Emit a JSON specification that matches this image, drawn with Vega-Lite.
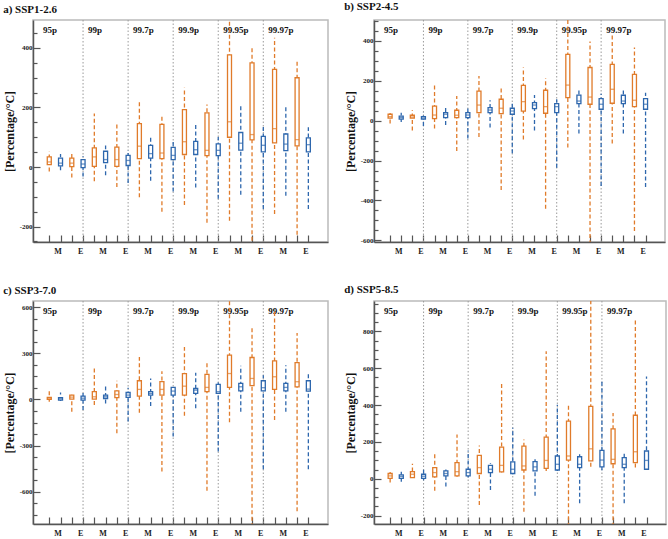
{
"$schema": "https://vega.github.io/schema/vega-lite/v6.json",
"padding": {"left": 2, "top": 0, "right": 0, "bottom": 0},
"config": {
 "font": "Liberation Serif",
 "view": {"stroke": "#bbbbbb", "strokeWidth": 1.5},
 "axis": {"grid": false, "domainColor": "#555555", "domainWidth": 1.5, "tickColor": "#555555", "tickWidth": 1.2, "labelFont": "Liberation Serif", "labelFontWeight": "bold", "labelFontSize": 7, "labelColor": "#222222", "titleFont": "Liberation Serif", "titleFontWeight": "bold", "titleFontSize": 12, "titleColor": "#111111", "labelOverlap": false, "labelFlush": false},
 "axisX": {"labelFontSize": 8},
 "title": {"font": "Liberation Serif", "fontWeight": "bold", "fontSize": 11, "anchor": "start", "frame": "bounds", "offset": 5, "color": "#111111"}
},
"datasets": {
 "groups": [{"g":"95p","sep":0},{"g":"99p","sep":4},{"g":"99.7p","sep":8},{"g":"99.9p","sep":12},{"g":"99.95p","sep":16},{"g":"99.97p","sep":20}],
 "boxes": [
  {"p":"a","i":1,"s":"O","lo":-15,"q1":8,"md":17,"q3":34,"hi":51},
  {"p":"a","i":2,"s":"B","lo":-11,"q1":4,"md":13,"q3":30,"hi":44},
  {"p":"a","i":3,"s":"O","lo":-35,"q1":1,"md":13,"q3":30,"hi":44},
  {"p":"a","i":4,"s":"B","lo":-32,"q1":-2,"md":10,"q3":25,"hi":36},
  {"p":"a","i":5,"s":"O","lo":-48,"q1":2,"md":34,"q3":64,"hi":180},
  {"p":"a","i":6,"s":"B","lo":-28,"q1":15,"md":25,"q3":53,"hi":72},
  {"p":"a","i":7,"s":"O","lo":-67,"q1":2,"md":25,"q3":67,"hi":143},
  {"p":"a","i":8,"s":"B","lo":-54,"q1":5,"md":22,"q3":39,"hi":56},
  {"p":"a","i":9,"s":"O","lo":-102,"q1":28,"md":70,"q3":146,"hi":221},
  {"p":"a","i":10,"s":"B","lo":-46,"q1":30,"md":45,"q3":73,"hi":102},
  {"p":"a","i":11,"s":"O","lo":-150,"q1":28,"md":47,"q3":143,"hi":176},
  {"p":"a","i":12,"s":"B","lo":-82,"q1":25,"md":39,"q3":66,"hi":84},
  {"p":"a","i":13,"s":"O","lo":-128,"q1":42,"md":85,"q3":193,"hi":266},
  {"p":"a","i":14,"s":"B","lo":-69,"q1":42,"md":58,"q3":86,"hi":148},
  {"p":"a","i":15,"s":"O","lo":-187,"q1":38,"md":56,"q3":182,"hi":210},
  {"p":"a","i":16,"s":"B","lo":-107,"q1":38,"md":56,"q3":78,"hi":101},
  {"p":"a","i":17,"s":"O","lo":-181,"q1":100,"md":152,"q3":377,"hi":520},
  {"p":"a","i":18,"s":"B","lo":-93,"q1":57,"md":80,"q3":116,"hi":207},
  {"p":"a","i":19,"s":"O","lo":-270,"q1":91,"md":109,"q3":350,"hi":401},
  {"p":"a","i":20,"s":"B","lo":-141,"q1":51,"md":73,"q3":103,"hi":137},
  {"p":"a","i":21,"s":"O","lo":-158,"q1":81,"md":129,"q3":328,"hi":434},
  {"p":"a","i":22,"s":"B","lo":-97,"q1":55,"md":77,"q3":111,"hi":203},
  {"p":"a","i":23,"s":"O","lo":-228,"q1":71,"md":92,"q3":300,"hi":356},
  {"p":"a","i":24,"s":"B","lo":-141,"q1":51,"md":75,"q3":98,"hi":134},
  {"p":"b","i":1,"s":"O","lo":-14,"q1":12,"md":20,"q3":32,"hi":48},
  {"p":"b","i":2,"s":"B","lo":-7,"q1":7,"md":15,"q3":23,"hi":40},
  {"p":"b","i":3,"s":"O","lo":-49,"q1":12,"md":18,"q3":27,"hi":52},
  {"p":"b","i":4,"s":"B","lo":-27,"q1":7,"md":13,"q3":20,"hi":40},
  {"p":"b","i":5,"s":"O","lo":-39,"q1":10,"md":28,"q3":73,"hi":177},
  {"p":"b","i":6,"s":"B","lo":-22,"q1":15,"md":32,"q3":40,"hi":73},
  {"p":"b","i":7,"s":"O","lo":-152,"q1":15,"md":27,"q3":52,"hi":123},
  {"p":"b","i":8,"s":"B","lo":-90,"q1":15,"md":28,"q3":40,"hi":65},
  {"p":"b","i":9,"s":"O","lo":-82,"q1":40,"md":78,"q3":148,"hi":224},
  {"p":"b","i":10,"s":"B","lo":-35,"q1":40,"md":53,"q3":65,"hi":102},
  {"p":"b","i":11,"s":"O","lo":-348,"q1":35,"md":62,"q3":107,"hi":168},
  {"p":"b","i":12,"s":"B","lo":-164,"q1":32,"md":48,"q3":62,"hi":85},
  {"p":"b","i":13,"s":"O","lo":-94,"q1":48,"md":95,"q3":177,"hi":266},
  {"p":"b","i":14,"s":"B","lo":-49,"q1":60,"md":78,"q3":90,"hi":128},
  {"p":"b","i":15,"s":"O","lo":-441,"q1":37,"md":70,"q3":152,"hi":212},
  {"p":"b","i":16,"s":"B","lo":-236,"q1":40,"md":70,"q3":85,"hi":107},
  {"p":"b","i":17,"s":"O","lo":-135,"q1":115,"md":178,"q3":332,"hi":530},
  {"p":"b","i":18,"s":"B","lo":-65,"q1":85,"md":98,"q3":128,"hi":157},
  {"p":"b","i":19,"s":"O","lo":-620,"q1":82,"md":118,"q3":266,"hi":396},
  {"p":"b","i":20,"s":"B","lo":-328,"q1":57,"md":82,"q3":110,"hi":135},
  {"p":"b","i":21,"s":"O","lo":-115,"q1":87,"md":157,"q3":282,"hi":432},
  {"p":"b","i":22,"s":"B","lo":-65,"q1":85,"md":98,"q3":127,"hi":160},
  {"p":"b","i":23,"s":"O","lo":-553,"q1":70,"md":102,"q3":232,"hi":366},
  {"p":"b","i":24,"s":"B","lo":-333,"q1":57,"md":82,"q3":110,"hi":140},
  {"p":"c","i":1,"s":"O","lo":-15,"q1":0,"md":8,"q3":13,"hi":56},
  {"p":"c","i":2,"s":"B","lo":-11,"q1":-4,"md":4,"q3":11,"hi":45},
  {"p":"c","i":3,"s":"O","lo":-80,"q1":2,"md":15,"q3":28,"hi":39},
  {"p":"c","i":4,"s":"B","lo":-69,"q1":-4,"md":8,"q3":21,"hi":43},
  {"p":"c","i":5,"s":"O","lo":-37,"q1":2,"md":17,"q3":50,"hi":207},
  {"p":"c","i":6,"s":"B","lo":-26,"q1":6,"md":17,"q3":28,"hi":86},
  {"p":"c","i":7,"s":"O","lo":-220,"q1":11,"md":32,"q3":56,"hi":121},
  {"p":"c","i":8,"s":"B","lo":-144,"q1":13,"md":28,"q3":45,"hi":76},
  {"p":"c","i":9,"s":"O","lo":-86,"q1":21,"md":65,"q3":121,"hi":276},
  {"p":"c","i":10,"s":"B","lo":-43,"q1":28,"md":39,"q3":50,"hi":136},
  {"p":"c","i":11,"s":"O","lo":-468,"q1":28,"md":65,"q3":115,"hi":183},
  {"p":"c","i":12,"s":"B","lo":-241,"q1":28,"md":54,"q3":78,"hi":93},
  {"p":"c","i":13,"s":"O","lo":-106,"q1":28,"md":86,"q3":168,"hi":341},
  {"p":"c","i":14,"s":"B","lo":-58,"q1":39,"md":60,"q3":71,"hi":173},
  {"p":"c","i":15,"s":"O","lo":-593,"q1":50,"md":78,"q3":162,"hi":250},
  {"p":"c","i":16,"s":"B","lo":-339,"q1":39,"md":50,"q3":97,"hi":125},
  {"p":"c","i":17,"s":"O","lo":-149,"q1":78,"md":168,"q3":287,"hi":660},
  {"p":"c","i":18,"s":"B","lo":-80,"q1":56,"md":82,"q3":104,"hi":218},
  {"p":"c","i":19,"s":"O","lo":-830,"q1":89,"md":136,"q3":272,"hi":464},
  {"p":"c","i":20,"s":"B","lo":-453,"q1":56,"md":76,"q3":121,"hi":157},
  {"p":"c","i":21,"s":"O","lo":-134,"q1":65,"md":147,"q3":250,"hi":572},
  {"p":"c","i":22,"s":"B","lo":-80,"q1":56,"md":78,"q3":104,"hi":222},
  {"p":"c","i":23,"s":"O","lo":-727,"q1":82,"md":115,"q3":239,"hi":432},
  {"p":"c","i":24,"s":"B","lo":-453,"q1":54,"md":67,"q3":121,"hi":173},
  {"p":"d","i":1,"s":"O","lo":-20,"q1":3,"md":16,"q3":29,"hi":48},
  {"p":"d","i":2,"s":"B","lo":-16,"q1":3,"md":13,"q3":22,"hi":39},
  {"p":"d","i":3,"s":"O","lo":5,"q1":7,"md":25,"q3":39,"hi":82},
  {"p":"d","i":4,"s":"B","lo":-7,"q1":3,"md":14,"q3":25,"hi":55},
  {"p":"d","i":5,"s":"O","lo":-65,"q1":11,"md":34,"q3":61,"hi":145},
  {"p":"d","i":6,"s":"B","lo":-41,"q1":16,"md":29,"q3":43,"hi":61},
  {"p":"d","i":7,"s":"O","lo":11,"q1":16,"md":39,"q3":88,"hi":240},
  {"p":"d","i":8,"s":"B","lo":7,"q1":16,"md":34,"q3":52,"hi":154},
  {"p":"d","i":9,"s":"O","lo":-142,"q1":29,"md":61,"q3":127,"hi":181},
  {"p":"d","i":10,"s":"B","lo":-61,"q1":34,"md":52,"q3":73,"hi":84},
  {"p":"d","i":11,"s":"O","lo":34,"q1":38,"md":73,"q3":172,"hi":523},
  {"p":"d","i":12,"s":"B","lo":25,"q1":29,"md":52,"q3":92,"hi":277},
  {"p":"d","i":13,"s":"O","lo":-178,"q1":48,"md":70,"q3":178,"hi":213},
  {"p":"d","i":14,"s":"B","lo":-92,"q1":43,"md":65,"q3":93,"hi":106},
  {"p":"d","i":15,"s":"O","lo":43,"q1":57,"md":100,"q3":226,"hi":693},
  {"p":"d","i":16,"s":"B","lo":43,"q1":48,"md":79,"q3":124,"hi":402},
  {"p":"d","i":17,"s":"O","lo":-260,"q1":102,"md":124,"q3":313,"hi":402},
  {"p":"d","i":18,"s":"B","lo":-133,"q1":61,"md":79,"q3":120,"hi":133},
  {"p":"d","i":19,"s":"O","lo":65,"q1":97,"md":163,"q3":393,"hi":980},
  {"p":"d","i":20,"s":"B","lo":46,"q1":65,"md":102,"q3":154,"hi":541},
  {"p":"d","i":21,"s":"O","lo":-260,"q1":82,"md":106,"q3":271,"hi":357},
  {"p":"d","i":22,"s":"B","lo":-133,"q1":61,"md":79,"q3":115,"hi":136},
  {"p":"d","i":23,"s":"O","lo":61,"q1":88,"md":147,"q3":345,"hi":870},
  {"p":"d","i":24,"s":"B","lo":50,"q1":52,"md":100,"q3":151,"hi":555}
 ]
},
"vconcat": [
 {"hconcat": [
  {"width": 295, "height": 222, "title": {"text": "a) SSP1-2.6"},
   "layer": [
    {"data": {"name": "groups"}, "transform": [{"filter": "datum.sep > 0"}],
     "mark": {"type": "rule", "color": "#9a9a9a", "strokeDash": [1.5, 2], "strokeWidth": 1},
     "encoding": {"x": {"field": "sep", "type": "quantitative", "scale": {"domain": [0, 25.3], "nice": false, "zero": false},
       "axis": {"title": null, "tickCount": 100, "values": [1,2,3,4,5,6,7,8,9,10,11,12,13,14,15,16,17,18,19,20,21,22,23,24], "labelExpr": "datum.value % 4 == 0 ? 'E' : (datum.value % 4 == 2 ? 'M' : '')", "tickSize": -7, "labelPadding": 12, "labelOffset": -3, "labelOverlap": false}}}},
    {"data": {"name": "groups"},
     "mark": {"type": "text", "align": "left", "baseline": "middle", "dx": 5, "fontSize": 9, "fontWeight": "bold", "color": "#111111"},
     "encoding": {"x": {"field": "sep", "type": "quantitative", "scale": {"domain": [0, 25.3], "nice": false, "zero": false}},
      "y": {"datum": 460, "type": "quantitative", "scale": {"domain": [-252, 494], "nice": false, "zero": false},
       "axis": {"title": "[Percentage/°C]", "tickCount": 100, "values": [-250,-200,-150,-100,-50,0,50,100,150,200,250,300,350,400,450], "labelExpr": "datum.value % 200 == 0 ? '' + datum.value : ''", "tickSize": {"condition": {"test": "datum.value % 200 == 0", "value": -7}, "value": -4}, "labelPadding": 8, "titlePadding": 3, "labelOverlap": false}},
      "text": {"field": "g"}}},
    {"data": {"name": "boxes"}, "transform": [{"filter": "datum.p == 'a'"}],
     "mark": {"type": "rule", "strokeDash": [4, 2.5], "strokeWidth": 1.3, "clip": true},
     "encoding": {"x": {"field": "i", "type": "quantitative", "scale": {"domain": [0, 25.3], "nice": false, "zero": false}},
      "y": {"field": "lo", "type": "quantitative", "scale": {"domain": [-252, 494], "nice": false, "zero": false}}, "y2": {"field": "hi"},
      "color": {"field": "s", "type": "nominal", "scale": {"domain": ["O","B"], "range": ["#E07B2A", "#2E67AD"]}, "legend": null}}},
    {"data": {"name": "boxes"}, "transform": [{"filter": "datum.p == 'a'"}],
     "mark": {"type": "bar", "width": 4, "fill": "white", "strokeWidth": 1.3, "clip": true},
     "encoding": {"x": {"field": "i", "type": "quantitative", "scale": {"domain": [0, 25.3], "nice": false, "zero": false}},
      "y": {"field": "q1", "type": "quantitative", "scale": {"domain": [-252, 494], "nice": false, "zero": false}}, "y2": {"field": "q3"},
      "stroke": {"field": "s", "type": "nominal", "scale": {"domain": ["O","B"], "range": ["#E07B2A", "#2E67AD"]}, "legend": null}}},
    {"data": {"name": "boxes"}, "transform": [{"filter": "datum.p == 'a'"}],
     "mark": {"type": "tick", "orient": "horizontal", "size": 4, "thickness": 1.3, "clip": true},
     "encoding": {"x": {"field": "i", "type": "quantitative", "scale": {"domain": [0, 25.3], "nice": false, "zero": false}},
      "y": {"field": "md", "type": "quantitative", "scale": {"domain": [-252, 494], "nice": false, "zero": false}},
      "color": {"field": "s", "type": "nominal", "scale": {"domain": ["O","B"], "range": ["#E07B2A", "#2E67AD"]}, "legend": null}}}
   ]},
  {"width": 291, "height": 222, "title": {"text": "b) SSP2-4.5"},
   "layer": [
    {"data": {"name": "groups"}, "transform": [{"filter": "datum.sep > 0"}],
     "mark": {"type": "rule", "color": "#9a9a9a", "strokeDash": [1.5, 2], "strokeWidth": 1},
     "encoding": {"x": {"field": "sep", "type": "quantitative", "scale": {"domain": [0, 25.3], "nice": false, "zero": false},
       "axis": {"title": null, "tickCount": 100, "values": [1,2,3,4,5,6,7,8,9,10,11,12,13,14,15,16,17,18,19,20,21,22,23,24], "labelExpr": "datum.value % 4 == 0 ? 'E' : (datum.value % 4 == 2 ? 'M' : '')", "tickSize": -7, "labelPadding": 12, "labelOffset": -3, "labelOverlap": false}}}},
    {"data": {"name": "groups"},
     "mark": {"type": "text", "align": "left", "baseline": "middle", "dx": 5, "fontSize": 9, "fontWeight": "bold", "color": "#111111"},
     "encoding": {"x": {"field": "sep", "type": "quantitative", "scale": {"domain": [0, 25.3], "nice": false, "zero": false}},
      "y": {"datum": 452, "type": "quantitative", "scale": {"domain": [-608, 504], "nice": false, "zero": false},
       "axis": {"title": "[Percentage/°C]", "tickCount": 100, "values": [-600,-550,-500,-450,-400,-350,-300,-250,-200,-150,-100,-50,0,50,100,150,200,250,300,350,400,450,500], "labelExpr": "datum.value % 200 == 0 ? '' + datum.value : ''", "tickSize": {"condition": {"test": "datum.value % 200 == 0", "value": -7}, "value": -4}, "labelPadding": 8, "titlePadding": 3, "labelOverlap": false}},
      "text": {"field": "g"}}},
    {"data": {"name": "boxes"}, "transform": [{"filter": "datum.p == 'b'"}],
     "mark": {"type": "rule", "strokeDash": [4, 2.5], "strokeWidth": 1.3, "clip": true},
     "encoding": {"x": {"field": "i", "type": "quantitative", "scale": {"domain": [0, 25.3], "nice": false, "zero": false}},
      "y": {"field": "lo", "type": "quantitative", "scale": {"domain": [-608, 504], "nice": false, "zero": false}}, "y2": {"field": "hi"},
      "color": {"field": "s", "type": "nominal", "scale": {"domain": ["O","B"], "range": ["#E07B2A", "#2E67AD"]}, "legend": null}}},
    {"data": {"name": "boxes"}, "transform": [{"filter": "datum.p == 'b'"}],
     "mark": {"type": "bar", "width": 4, "fill": "white", "strokeWidth": 1.3, "clip": true},
     "encoding": {"x": {"field": "i", "type": "quantitative", "scale": {"domain": [0, 25.3], "nice": false, "zero": false}},
      "y": {"field": "q1", "type": "quantitative", "scale": {"domain": [-608, 504], "nice": false, "zero": false}}, "y2": {"field": "q3"},
      "stroke": {"field": "s", "type": "nominal", "scale": {"domain": ["O","B"], "range": ["#E07B2A", "#2E67AD"]}, "legend": null}}},
    {"data": {"name": "boxes"}, "transform": [{"filter": "datum.p == 'b'"}],
     "mark": {"type": "tick", "orient": "horizontal", "size": 4, "thickness": 1.3, "clip": true},
     "encoding": {"x": {"field": "i", "type": "quantitative", "scale": {"domain": [0, 25.3], "nice": false, "zero": false}},
      "y": {"field": "md", "type": "quantitative", "scale": {"domain": [-608, 504], "nice": false, "zero": false}},
      "color": {"field": "s", "type": "nominal", "scale": {"domain": ["O","B"], "range": ["#E07B2A", "#2E67AD"]}, "legend": null}}}
   ]}
 ], "spacing": 14},
 {"hconcat": [
  {"width": 295, "height": 223, "title": {"text": "c) SSP3-7.0"},
   "layer": [
    {"data": {"name": "groups"}, "transform": [{"filter": "datum.sep > 0"}],
     "mark": {"type": "rule", "color": "#9a9a9a", "strokeDash": [1.5, 2], "strokeWidth": 1},
     "encoding": {"x": {"field": "sep", "type": "quantitative", "scale": {"domain": [0, 25.3], "nice": false, "zero": false},
       "axis": {"title": null, "tickCount": 100, "values": [1,2,3,4,5,6,7,8,9,10,11,12,13,14,15,16,17,18,19,20,21,22,23,24], "labelExpr": "datum.value % 4 == 0 ? 'E' : (datum.value % 4 == 2 ? 'M' : '')", "tickSize": -7, "labelPadding": 12, "labelOffset": -3, "labelOverlap": false}}}},
    {"data": {"name": "groups"},
     "mark": {"type": "text", "align": "left", "baseline": "middle", "dx": 5, "fontSize": 9, "fontWeight": "bold", "color": "#111111"},
     "encoding": {"x": {"field": "sep", "type": "quantitative", "scale": {"domain": [0, 25.3], "nice": false, "zero": false}},
      "y": {"datum": 572, "type": "quantitative", "scale": {"domain": [-809, 639], "nice": false, "zero": false},
       "axis": {"title": "[Percentage/°C]", "tickCount": 100, "values": [-750,-675,-600,-525,-450,-375,-300,-225,-150,-75,0,75,150,225,300,375,450,525,600], "labelExpr": "datum.value % 300 == 0 ? '' + datum.value : ''", "tickSize": {"condition": {"test": "datum.value % 300 == 0", "value": -7}, "value": -4}, "labelPadding": 8, "titlePadding": 3, "labelOverlap": false}},
      "text": {"field": "g"}}},
    {"data": {"name": "boxes"}, "transform": [{"filter": "datum.p == 'c'"}],
     "mark": {"type": "rule", "strokeDash": [4, 2.5], "strokeWidth": 1.3, "clip": true},
     "encoding": {"x": {"field": "i", "type": "quantitative", "scale": {"domain": [0, 25.3], "nice": false, "zero": false}},
      "y": {"field": "lo", "type": "quantitative", "scale": {"domain": [-809, 639], "nice": false, "zero": false}}, "y2": {"field": "hi"},
      "color": {"field": "s", "type": "nominal", "scale": {"domain": ["O","B"], "range": ["#E07B2A", "#2E67AD"]}, "legend": null}}},
    {"data": {"name": "boxes"}, "transform": [{"filter": "datum.p == 'c'"}],
     "mark": {"type": "bar", "width": 4, "fill": "white", "strokeWidth": 1.3, "clip": true},
     "encoding": {"x": {"field": "i", "type": "quantitative", "scale": {"domain": [0, 25.3], "nice": false, "zero": false}},
      "y": {"field": "q1", "type": "quantitative", "scale": {"domain": [-809, 639], "nice": false, "zero": false}}, "y2": {"field": "q3"},
      "stroke": {"field": "s", "type": "nominal", "scale": {"domain": ["O","B"], "range": ["#E07B2A", "#2E67AD"]}, "legend": null}}},
    {"data": {"name": "boxes"}, "transform": [{"filter": "datum.p == 'c'"}],
     "mark": {"type": "tick", "orient": "horizontal", "size": 4, "thickness": 1.3, "clip": true},
     "encoding": {"x": {"field": "i", "type": "quantitative", "scale": {"domain": [0, 25.3], "nice": false, "zero": false}},
      "y": {"field": "md", "type": "quantitative", "scale": {"domain": [-809, 639], "nice": false, "zero": false}},
      "color": {"field": "s", "type": "nominal", "scale": {"domain": ["O","B"], "range": ["#E07B2A", "#2E67AD"]}, "legend": null}}}
   ]},
  {"width": 292, "height": 223, "title": {"text": "d) SSP5-8.5"},
   "layer": [
    {"data": {"name": "groups"}, "transform": [{"filter": "datum.sep > 0"}],
     "mark": {"type": "rule", "color": "#9a9a9a", "strokeDash": [1.5, 2], "strokeWidth": 1},
     "encoding": {"x": {"field": "sep", "type": "quantitative", "scale": {"domain": [0, 25.3], "nice": false, "zero": false},
       "axis": {"title": null, "tickCount": 100, "values": [1,2,3,4,5,6,7,8,9,10,11,12,13,14,15,16,17,18,19,20,21,22,23,24], "labelExpr": "datum.value % 4 == 0 ? 'E' : (datum.value % 4 == 2 ? 'M' : '')", "tickSize": -7, "labelPadding": 12, "labelOffset": -3, "labelOverlap": false}}}},
    {"data": {"name": "groups"},
     "mark": {"type": "text", "align": "left", "baseline": "middle", "dx": 5, "fontSize": 9, "fontWeight": "bold", "color": "#111111"},
     "encoding": {"x": {"field": "sep", "type": "quantitative", "scale": {"domain": [0, 25.3], "nice": false, "zero": false}},
      "y": {"datum": 909, "type": "quantitative", "scale": {"domain": [-245, 965], "nice": false, "zero": false},
       "axis": {"title": "[Percentage/°C]", "tickCount": 100, "values": [-200,-150,-100,-50,0,50,100,150,200,250,300,350,400,450,500,550,600,650,700,750,800,850,900,950], "labelExpr": "datum.value % 200 == 0 ? '' + datum.value : ''", "tickSize": {"condition": {"test": "datum.value % 200 == 0", "value": -7}, "value": -4}, "labelPadding": 8, "titlePadding": 3, "labelOverlap": false}},
      "text": {"field": "g"}}},
    {"data": {"name": "boxes"}, "transform": [{"filter": "datum.p == 'd'"}],
     "mark": {"type": "rule", "strokeDash": [4, 2.5], "strokeWidth": 1.3, "clip": true},
     "encoding": {"x": {"field": "i", "type": "quantitative", "scale": {"domain": [0, 25.3], "nice": false, "zero": false}},
      "y": {"field": "lo", "type": "quantitative", "scale": {"domain": [-245, 965], "nice": false, "zero": false}}, "y2": {"field": "hi"},
      "color": {"field": "s", "type": "nominal", "scale": {"domain": ["O","B"], "range": ["#E07B2A", "#2E67AD"]}, "legend": null}}},
    {"data": {"name": "boxes"}, "transform": [{"filter": "datum.p == 'd'"}],
     "mark": {"type": "bar", "width": 4, "fill": "white", "strokeWidth": 1.3, "clip": true},
     "encoding": {"x": {"field": "i", "type": "quantitative", "scale": {"domain": [0, 25.3], "nice": false, "zero": false}},
      "y": {"field": "q1", "type": "quantitative", "scale": {"domain": [-245, 965], "nice": false, "zero": false}}, "y2": {"field": "q3"},
      "stroke": {"field": "s", "type": "nominal", "scale": {"domain": ["O","B"], "range": ["#E07B2A", "#2E67AD"]}, "legend": null}}},
    {"data": {"name": "boxes"}, "transform": [{"filter": "datum.p == 'd'"}],
     "mark": {"type": "tick", "orient": "horizontal", "size": 4, "thickness": 1.3, "clip": true},
     "encoding": {"x": {"field": "i", "type": "quantitative", "scale": {"domain": [0, 25.3], "nice": false, "zero": false}},
      "y": {"field": "md", "type": "quantitative", "scale": {"domain": [-245, 965], "nice": false, "zero": false}},
      "color": {"field": "s", "type": "nominal", "scale": {"domain": ["O","B"], "range": ["#E07B2A", "#2E67AD"]}, "legend": null}}}
   ]}
 ], "spacing": 14}
],
"spacing": 27
}
